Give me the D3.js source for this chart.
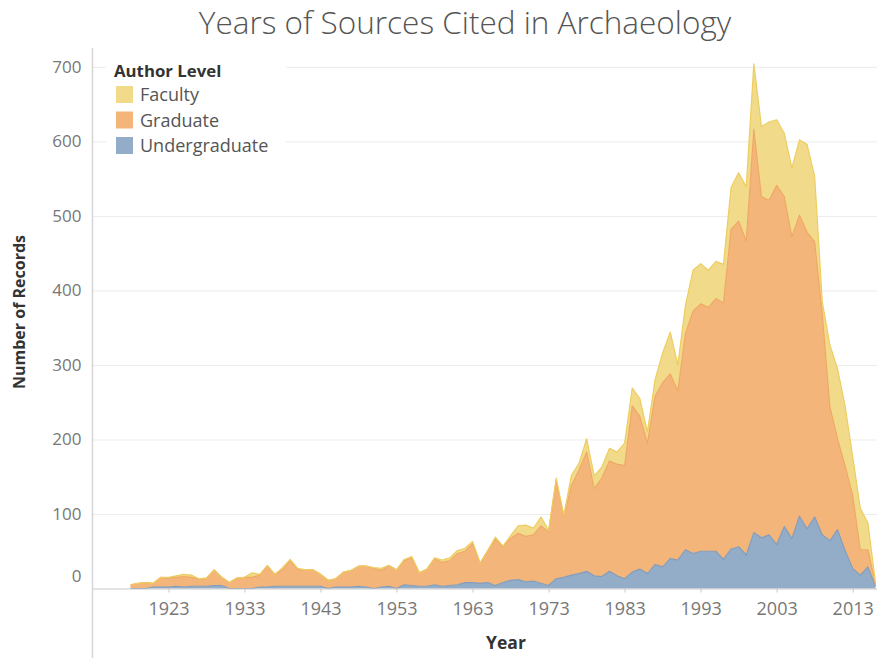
<!DOCTYPE html>
<html>
<head>
<meta charset="utf-8">
<script src="https://cdn.jsdelivr.net/npm/d3@7/dist/d3.min.js"></script>
<style>
body { margin: 0; background: #fff; }
svg text { font-family: "Open Sans", Lato, sans-serif; }
</style>
</head>
<body>
<div id="chart"></div>
<script>
// data, one entry per year
var years = [1918,1919,1920,1921,1922,1923,1924,1925,1926,1927,
  1928,1929,1930,1931,1932,1933,1934,1935,1936,1937,
  1938,1939,1940,1941,1942,1943,1944,1945,1946,1947,
  1948,1949,1950,1951,1952,1953,1954,1955,1956,1957,
  1958,1959,1960,1961,1962,1963,1964,1965,1966,1967,
  1968,1969,1970,1971,1972,1973,1974,1975,1976,1977,
  1978,1979,1980,1981,1982,1983,1984,1985,1986,1987,
  1988,1989,1990,1991,1992,1993,1994,1995,1996,1997,
  1998,1999,2000,2001,2002,2003,2004,2005,2006,2007,
  2008,2009,2010,2011,2012,2013,2014,2015,2016];

var undergraduate = [0,0,0,2,2,2,3,2,3,3,
  3,4,4,0,0,0,0,2,2,3,
  3,3,3,3,3,3,0,2,2,2,
  3,2,0,2,3,0,5,4,3,3,
  5,3,4,5,8,8,7,8,4,8,
  11,12,9,10,7,4,13,15,18,20,
  23,17,16,23,17,13,22,26,20,32,
  29,40,38,52,47,50,50,50,39,53,
  56,45,75,68,72,59,83,67,97,80,
  96,72,64,79,51,27,18,29,3];

var graduate = [5,7,8,5,13,12,12,14,12,10,
  11,21,11,8,14,15,15,16,28,16,
  22,34,22,22,22,16,11,11,20,22,
  27,28,27,22,28,25,32,37,18,23,
  35,32,33,42,42,52,27,43,62,48,
  56,62,61,62,77,72,132,82,120,139,
  160,117,132,148,150,152,223,205,175,226,
  247,248,227,290,325,332,327,339,344,429,
  437,421,541,458,449,482,443,405,404,398,
  369,296,180,122,114,98,34,23,3];

var faculty = [0,0,0,0,0,1,2,3,3,0,
  0,0,0,0,0,0,6,1,1,0,
  3,2,2,0,0,0,0,0,0,0,
  0,0,1,3,0,0,2,2,0,0,
  1,3,4,4,4,3,0,0,3,1,
  4,10,15,9,12,2,3,1,14,9,
  18,17,15,17,16,30,24,24,15,22,
  40,56,35,38,55,54,50,50,52,56,
  65,73,88,94,105,88,85,92,101,118,
  88,17,83,94,80,52,56,36,2];

var levels = ['Faculty', 'Graduate', 'Undergraduate'];
var yTicks = [0,100,200,300,400,500,600,700];
var xTicks = [1923,1933,1943,1953,1963,1973,1983,1993,2003,2013];

var fills = {Faculty: '#f1db8b', Graduate: '#f4b57a', Undergraduate: '#93adc9'};
var strokes = {Faculty: '#eecd60', Graduate: '#efa864', Undergraduate: '#829dbb'};

var width = 877, height = 658;

var svg = d3.select('#chart').append('svg')
  .attr('width', width)
  .attr('height', height);

var x = d3.scaleLinear().domain([1913, 2016.2]).range([92.5, 877]);
var y = d3.scaleLinear().domain([0, 726]).range([588.5, 47.5]);

var rows = years.map(function(yr, i) {
  return {year: yr, Faculty: faculty[i], Graduate: graduate[i], Undergraduate: undergraduate[i]};
});

var stack = d3.stack().keys(['Undergraduate', 'Graduate', 'Faculty']);
var series = stack(rows);

// gridlines
svg.append('g').selectAll('line')
  .data(yTicks.filter(function(d) { return d > 0; }))
  .enter().append('line')
  .attr('x1', 93).attr('x2', width)
  .attr('y1', function(d) { return y(d) + 0.5; })
  .attr('y2', function(d) { return y(d) + 0.5; })
  .attr('stroke', '#ececec');

var area = d3.area()
  .x(function(d) { return x(d.data.year); })
  .y0(function(d) { return y(d[0]); })
  .y1(function(d) { return y(d[1]); });

var topLine = d3.line()
  .x(function(d) { return x(d.data.year); })
  .y(function(d) { return y(d[1]); });

var layers = svg.append('g');
series.forEach(function(s) {
  layers.append('path')
    .datum(s)
    .attr('d', area)
    .attr('fill', fills[s.key]);
});
series.forEach(function(s) {
  layers.append('path')
    .datum(s)
    .attr('d', topLine)
    .attr('fill', 'none')
    .attr('stroke', strokes[s.key])
    .attr('stroke-width', 1.2)
    .attr('stroke-linejoin', 'round');
});

// zero line + left axis line
svg.append('line')
  .attr('x1', 93).attr('x2', width)
  .attr('y1', y(0) + 0.5).attr('y2', y(0) + 0.5)
  .attr('stroke', '#c8c8c8');
svg.append('line')
  .attr('x1', 92.5).attr('x2', 92.5)
  .attr('y1', 48).attr('y2', height)
  .attr('stroke', '#d6d6d6')
  .attr('stroke-width', 1.5);

// y axis
var yAxis = svg.append('g')
  .attr('transform', 'translate(92.5,0)')
  .call(d3.axisLeft(y).tickValues(yTicks).tickSize(0).tickPadding(11));
yAxis.select('.domain').remove();
yAxis.selectAll('text')
  .attr('fill', '#777')
  .style('font-size', '17px');
yAxis.selectAll('.tick').filter(function(d) { return d === 0; })
  .select('text').attr('y', -12);

// x axis
var xAxis = svg.append('g')
  .attr('transform', 'translate(0,' + y(0) + ')')
  .call(d3.axisBottom(x).tickValues(xTicks).tickSize(4).tickPadding(10).tickFormat(d3.format('d')));
xAxis.select('.domain').remove();
xAxis.selectAll('line').attr('stroke', '#c8c8c8');
xAxis.selectAll('text')
  .attr('fill', '#777')
  .style('font-size', '18px');

// titles
svg.append('text')
  .attr('x', 465).attr('y', 34)
  .attr('text-anchor', 'middle')
  .attr('fill', '#555')
  .style('font-size', '31.5px')
  .style('font-weight', 300)
  .text('Years of Sources Cited in Archaeology');

svg.append('text')
  .attr('transform', 'translate(25,312) rotate(-90)')
  .attr('text-anchor', 'middle')
  .attr('fill', '#333')
  .style('font-size', '16px')
  .style('font-weight', 'bold')
  .text('Number of Records');

svg.append('text')
  .attr('x', 506).attr('y', 649)
  .attr('text-anchor', 'middle')
  .attr('fill', '#333')
  .style('font-size', '17.5px')
  .style('font-weight', 'bold')
  .text('Year');

// legend
var legend = svg.append('g');
legend.append('rect')
  .attr('x', 106).attr('y', 56)
  .attr('width', 180).attr('height', 104)
  .attr('fill', '#fff');
legend.append('text')
  .attr('x', 114).attr('y', 77)
  .attr('fill', '#333')
  .style('font-size', '16.8px')
  .style('font-weight', 'bold')
  .text('Author Level');
var items = legend.selectAll('g.item')
  .data(levels)
  .enter().append('g')
  .attr('class', 'item')
  .attr('transform', function(d, i) { return 'translate(116,' + (86 + i * 25.5) + ')'; });
items.append('rect')
  .attr('width', 17).attr('height', 17)
  .attr('fill', function(d) { return fills[d]; });
items.append('text')
  .attr('x', 24).attr('y', 15)
  .attr('fill', '#555')
  .style('font-size', '18px')
  .text(function(d) { return d; });
</script>
</body>
</html>
